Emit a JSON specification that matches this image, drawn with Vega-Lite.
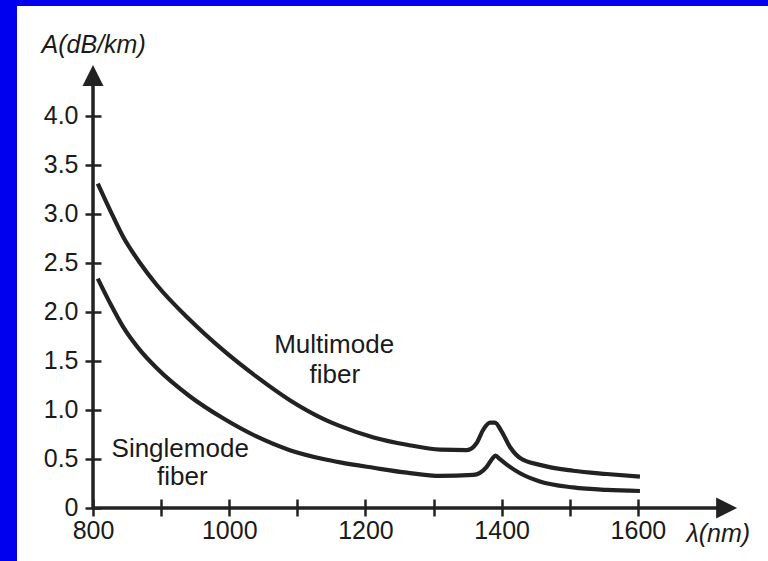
{
  "$schema": "https://vega.github.io/schema/vega-lite/v6.json",
  "width": 751,
  "height": 555,
  "autosize": "none",
  "padding": {"left": 17, "top": 6, "right": 0, "bottom": 0},
  "background": "#0000ee",
  "config": {
    "view": {"fill": "white", "stroke": null},
    "font": "Liberation Sans"
  },
  "layer": [
    {
      "data": {"values": [
        {"series": "Multimode", "nm": 807, "A": 3.31},
        {"series": "Multimode", "nm": 825, "A": 3.04},
        {"series": "Multimode", "nm": 844, "A": 2.77},
        {"series": "Multimode", "nm": 869, "A": 2.5},
        {"series": "Multimode", "nm": 893, "A": 2.28},
        {"series": "Multimode", "nm": 942, "A": 1.92},
        {"series": "Multimode", "nm": 991, "A": 1.61},
        {"series": "Multimode", "nm": 1040, "A": 1.34},
        {"series": "Multimode", "nm": 1089, "A": 1.1},
        {"series": "Multimode", "nm": 1138, "A": 0.91},
        {"series": "Multimode", "nm": 1163, "A": 0.835},
        {"series": "Multimode", "nm": 1212, "A": 0.72},
        {"series": "Multimode", "nm": 1261, "A": 0.645},
        {"series": "Multimode", "nm": 1310, "A": 0.595},
        {"series": "Multimode", "nm": 1349, "A": 0.59},
        {"series": "Multimode", "nm": 1363, "A": 0.66},
        {"series": "Multimode", "nm": 1373, "A": 0.8},
        {"series": "Multimode", "nm": 1383, "A": 0.87},
        {"series": "Multimode", "nm": 1390, "A": 0.87},
        {"series": "Multimode", "nm": 1400, "A": 0.78},
        {"series": "Multimode", "nm": 1412, "A": 0.625},
        {"series": "Multimode", "nm": 1427, "A": 0.51},
        {"series": "Multimode", "nm": 1456, "A": 0.44},
        {"series": "Multimode", "nm": 1505, "A": 0.38},
        {"series": "Multimode", "nm": 1554, "A": 0.347},
        {"series": "Multimode", "nm": 1603, "A": 0.32},
        {"series": "Singlemode", "nm": 807, "A": 2.34},
        {"series": "Singlemode", "nm": 825, "A": 2.09},
        {"series": "Singlemode", "nm": 844, "A": 1.85},
        {"series": "Singlemode", "nm": 869, "A": 1.61},
        {"series": "Singlemode", "nm": 893, "A": 1.43},
        {"series": "Singlemode", "nm": 942, "A": 1.14},
        {"series": "Singlemode", "nm": 991, "A": 0.915},
        {"series": "Singlemode", "nm": 1040, "A": 0.73},
        {"series": "Singlemode", "nm": 1089, "A": 0.59},
        {"series": "Singlemode", "nm": 1138, "A": 0.5},
        {"series": "Singlemode", "nm": 1163, "A": 0.465},
        {"series": "Singlemode", "nm": 1212, "A": 0.41},
        {"series": "Singlemode", "nm": 1261, "A": 0.36},
        {"series": "Singlemode", "nm": 1310, "A": 0.327},
        {"series": "Singlemode", "nm": 1358, "A": 0.337},
        {"series": "Singlemode", "nm": 1378, "A": 0.42},
        {"series": "Singlemode", "nm": 1386, "A": 0.5},
        {"series": "Singlemode", "nm": 1391, "A": 0.535},
        {"series": "Singlemode", "nm": 1397, "A": 0.5},
        {"series": "Singlemode", "nm": 1407, "A": 0.445},
        {"series": "Singlemode", "nm": 1427, "A": 0.354},
        {"series": "Singlemode", "nm": 1456, "A": 0.27},
        {"series": "Singlemode", "nm": 1505, "A": 0.21},
        {"series": "Singlemode", "nm": 1554, "A": 0.184},
        {"series": "Singlemode", "nm": 1603, "A": 0.173}
      ]},
      "mark": {"type": "line", "interpolate": "monotone", "strokeWidth": 4.2, "color": "#222222", "strokeCap": "butt"},
      "encoding": {
        "x": {
          "field": "nm", "type": "quantitative",
          "scale": {"domain": [688.4, 1791], "nice": false, "zero": false},
          "axis": {
            "values": [800, 900, 1000, 1100, 1200, 1300, 1400, 1500, 1600],
            "domain": false, "grid": false, "title": null,
            "offset": -62, "tickSize": 17, "tickWidth": 2.5, "tickColor": "#222222",
            "labelExpr": "datum.value % 200 == 0 ? datum.value : ''",
            "labelFontSize": 25, "labelColor": "#1a1a1a", "labelPadding": 2,
            "labelFlush": false, "labelOverlap": false, "labelBound": false
          }
        },
        "y": {
          "field": "A", "type": "quantitative",
          "scale": {"domain": [-0.541, 5.122], "nice": false, "zero": false},
          "axis": {
            "values": [0, 0.5, 1, 1.5, 2, 2.5, 3, 3.5, 4],
            "domain": false, "grid": false, "title": null,
            "offset": -84, "tickSize": 16, "tickWidth": 2.5, "tickColor": "#222222",
            "labelExpr": "datum.value == 0 ? '0' : format(datum.value, '.1f')",
            "labelFontSize": 25, "labelColor": "#1a1a1a", "labelPadding": 7,
            "labelOverlap": false, "labelBound": false
          }
        },
        "detail": {"field": "series"}
      }
    },
    {
      "data": {"values": [{}]},
      "mark": {"type": "rule", "strokeWidth": 3.5, "color": "#222222"},
      "encoding": {
        "x": {"datum": 800, "type": "quantitative", "scale": {"domain": [688.4, 1791], "nice": false, "zero": false}},
        "y": {"datum": 0, "type": "quantitative", "scale": {"domain": [-0.541, 5.122], "nice": false, "zero": false}},
        "y2": {"datum": 4.35}
      }
    },
    {
      "data": {"values": [{}]},
      "mark": {"type": "rule", "strokeWidth": 3.5, "color": "#222222"},
      "encoding": {
        "x": {"datum": 800, "type": "quantitative", "scale": {"domain": [688.4, 1791], "nice": false, "zero": false}},
        "x2": {"datum": 1725},
        "y": {"datum": 0, "type": "quantitative", "scale": {"domain": [-0.541, 5.122], "nice": false, "zero": false}}
      }
    },
    {
      "data": {"values": [{}]},
      "mark": {"type": "point", "shape": "M0,0L-1,2L1,2Z", "size": 441, "filled": true, "opacity": 1, "color": "#222222"},
      "encoding": {
        "x": {"datum": 800, "type": "quantitative", "scale": {"domain": [688.4, 1791], "nice": false, "zero": false}},
        "y": {"datum": 4.52, "type": "quantitative", "scale": {"domain": [-0.541, 5.122], "nice": false, "zero": false}}
      }
    },
    {
      "data": {"values": [{}]},
      "mark": {"type": "point", "shape": "M0,0L-2,-1L-2,1Z", "size": 441, "filled": true, "opacity": 1, "color": "#222222"},
      "encoding": {
        "x": {"datum": 1745.7, "type": "quantitative", "scale": {"domain": [688.4, 1791], "nice": false, "zero": false}},
        "y": {"datum": 0, "type": "quantitative", "scale": {"domain": [-0.541, 5.122], "nice": false, "zero": false}}
      }
    },
    {
      "data": {"values": [
        {"text": "Multimode", "nm": 1154, "A": 1.58},
        {"text": "fiber", "nm": 1155, "A": 1.276},
        {"text": "Singlemode", "nm": 928, "A": 0.52},
        {"text": "fiber", "nm": 931, "A": 0.235}
      ]},
      "mark": {"type": "text", "fontSize": 26, "align": "center", "baseline": "alphabetic", "color": "#1a1a1a"},
      "encoding": {
        "x": {"field": "nm", "type": "quantitative", "scale": {"domain": [688.4, 1791], "nice": false, "zero": false}},
        "y": {"field": "A", "type": "quantitative", "scale": {"domain": [-0.541, 5.122], "nice": false, "zero": false}},
        "text": {"field": "text"}
      }
    },
    {
      "data": {"values": [
        {"text": "A(dB/km)", "nm": 801, "A": 4.64},
        {"text": "λ(nm)", "nm": 1718, "A": -0.347}
      ]},
      "mark": {"type": "text", "fontSize": 25, "fontStyle": "italic", "align": "center", "baseline": "alphabetic", "color": "#1a1a1a"},
      "encoding": {
        "x": {"field": "nm", "type": "quantitative", "scale": {"domain": [688.4, 1791], "nice": false, "zero": false}},
        "y": {"field": "A", "type": "quantitative", "scale": {"domain": [-0.541, 5.122], "nice": false, "zero": false}},
        "text": {"field": "text"}
      }
    }
  ]
}
